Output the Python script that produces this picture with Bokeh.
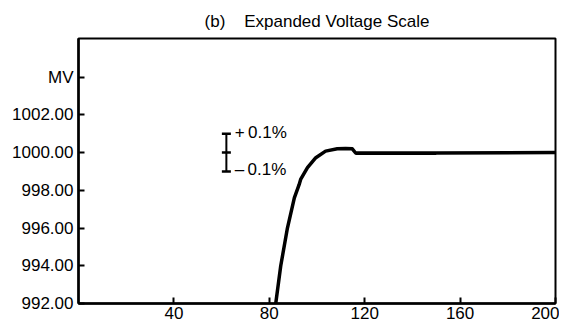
from bokeh.plotting import figure
from bokeh.models import Range1d, FixedTicker
from bokeh.core.properties import value
from bokeh.embed import file_html
from bokeh.resources import INLINE

# ---- data ----
time_s = [82.0, 82.7, 84.8, 87.6, 90.5, 92.5, 93.2, 96.0, 99.5, 103.6, 108.5, 112.0, 114.8, 116.2, 150.0, 200.0]
voltage_mv = [990.8, 992.0, 994.0, 996.0, 997.6, 998.3, 998.6, 999.2, 999.73, 1000.08, 1000.2, 1000.22, 1000.2, 999.98, 999.98, 1000.0]
hold_t = [116.2, 150.0]
hold_v = [999.94, 999.94]

band_t = [62.0]
band_lo = [999.0]
band_mid = [1000.0]
band_hi = [1001.0]
band_labels = ["+\u20090.1%", "\u2013\u20090.1%"]
band_label_t = [65.5, 65.5]
band_label_v = [1001.07, 999.08]

x_ticks = [40, 80, 120, 160, 200]
y_ticks = [992, 994, 996, 998, 1000, 1002, 1004]
y_tick_labels = {992: "992.00", 994: "994.00", 996: "996.00", 998: "998.00",
                 1000: "1000.00", 1002: "1002.00", 1004: "MV"}
title_text = "(b)\u00a0\u00a0\u00a0\u00a0Expanded Voltage Scale"

FONT = "Liberation Sans"

p = figure(width=559, height=321, output_backend="svg", toolbar_location=None,
           x_range=Range1d(0, 200), y_range=Range1d(992, 1006.05),
           min_border_left=78, min_border_right=4, min_border_top=38, min_border_bottom=18,
           title=title_text)
p.title.text_font = FONT
p.title.text_font_size = "17px"
p.title.text_font_style = "normal"
p.title.align = "center"
p.title.text_color = "black"
p.title.standoff = 15

p.xgrid.visible = False
p.ygrid.visible = False
p.outline_line_color = "black"
p.outline_line_width = 2
p.outline_line_alpha = 1

for ax in (p.xaxis[0], p.yaxis[0]):
    ax.axis_line_width = 2.5
    ax.axis_line_color = "black"
    ax.major_tick_in = 6
    ax.major_tick_out = 0
    ax.major_tick_line_width = 2
    ax.major_tick_line_color = "black"
    ax.minor_tick_line_color = None
    ax.major_label_text_font = FONT
    ax.major_label_text_font_size = "17px"
    ax.major_label_text_color = "black"

p.xaxis.ticker = FixedTicker(ticks=x_ticks)
p.xaxis.major_label_standoff = 3
p.yaxis.ticker = FixedTicker(ticks=y_ticks)
p.yaxis.major_label_overrides = {k: v for k, v in y_tick_labels.items()}
p.yaxis.major_label_standoff = 5

p.line(time_s, voltage_mv, line_color="black", line_width=3.5, line_join="round")
p.line(hold_t, hold_v, line_color="black", line_width=2.5)

# tolerance band marker
p.segment(x0=band_t, y0=band_lo, x1=band_t, y1=band_hi, line_color="black", line_width=2)
p.scatter(x=band_t * 3, y=band_lo + band_mid + band_hi, marker="dash", size=9,
          line_color="black", line_width=2.5)
p.text(x=band_label_t, y=band_label_v, text=band_labels, text_font=value(FONT),
       text_font_size="17px", text_color="black", text_baseline="middle", text_align="left")

open("out.html", "w").write(file_html(p, INLINE))
